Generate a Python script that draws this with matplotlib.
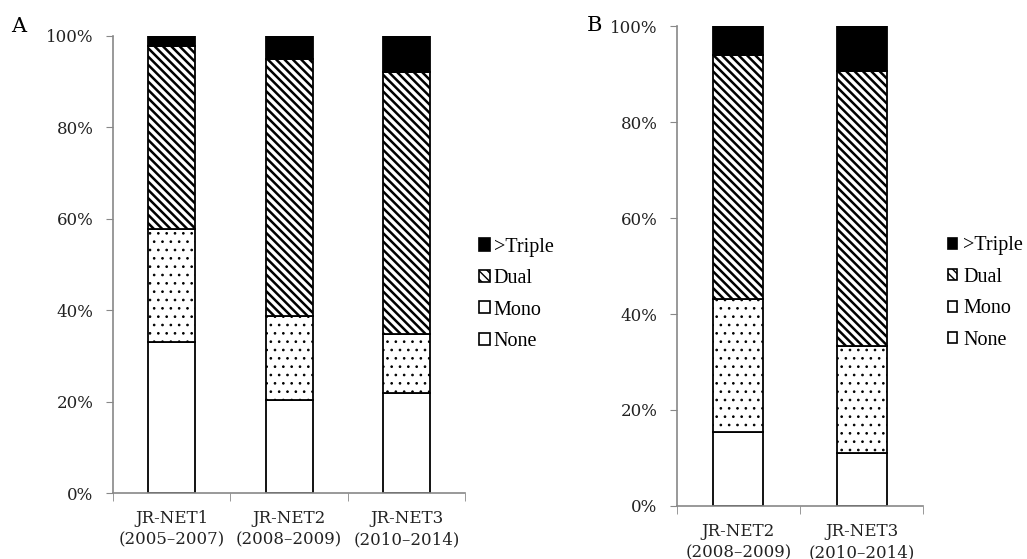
import matplotlib.pyplot as plt
from matplotlib.patches import Patch
from matplotlib.font_manager import FontProperties

plt.rcParams['font.family'] = ['DejaVu Serif']

# Panel A data (percent)
labels_a = ['JR-NET1\n(2005\u20132007)', 'JR-NET2\n(2008\u20132009)', 'JR-NET3\n(2010\u20132014)']
none_a = [33.1, 20.4, 21.8]
mono_a = [24.7, 18.3, 13.0]
dual_a = [39.9, 56.3, 57.2]
triple_a = [2.3, 5.0, 8.0]

# Panel B data (percent)
labels_b = ['JR-NET2\n(2008\u20132009)', 'JR-NET3\n(2010\u20132014)']
none_b = [15.4, 11.0]
mono_b = [27.7, 22.3]
dual_b = [50.9, 57.3]
triple_b = [6.0, 9.4]

series_names = ['None', 'Mono', 'Dual', '>Triple']
hatches = ['', '..', '\\\\\\\\', '']
hatch_lw = [1.0, 0.7, 1.8, 1.0]
faces = ['white', 'white', 'white', 'black']

fig = plt.figure(figsize=(10.27, 5.59), dpi=100)
ax_a = fig.add_axes([0.110, 0.118, 0.343, 0.818])
ax_b = fig.add_axes([0.659, 0.095, 0.240, 0.858])


def set_hlw(patch, hl):
    # per-patch hatch line width (matplotlib >= 3.10)
    if hasattr(patch, 'set_hatch_linewidth'):
        patch.set_hatch_linewidth(hl)


def draw_panel(ax, labels, series, width):
    x = list(range(len(labels)))
    bottom = [0.0] * len(labels)
    for vals, h, fc, hl in zip(series, hatches, faces, hatch_lw):
        with plt.rc_context({'hatch.linewidth': hl}):
            bars = ax.bar(x, vals, width, bottom=bottom, color=fc, hatch=h,
                          edgecolor='black', linewidth=1.3)
        for p in bars:
            set_hlw(p, hl)
        bottom = [b + v for b, v in zip(bottom, vals)]
    ax.set_xlim(-0.5, len(labels) - 0.5)
    ax.set_ylim(0, 100)
    ax.set_yticks([0, 20, 40, 60, 80, 100])
    ax.set_yticklabels(['0%', '20%', '40%', '60%', '80%', '100%'], fontsize=12,
                       color='#222222')
    ax.set_xticks(x)
    ax.set_xticklabels(labels, fontsize=12, linespacing=1.35, color='#222222')
    ax.set_xticks([i - 0.5 for i in range(len(labels) + 1)], minor=True)
    ax.tick_params(axis='x', which='major', length=0, pad=12)
    ax.tick_params(axis='x', which='minor', length=6, color='#888888')
    ax.tick_params(axis='y', length=5, color='#888888', pad=9)
    for s in ['top', 'right']:
        ax.spines[s].set_visible(False)
    for s in ['left', 'bottom']:
        ax.spines[s].set_color('#888888')
        ax.spines[s].set_linewidth(1.2)


draw_panel(ax_a, labels_a, [none_a, mono_a, dual_a, triple_a], 0.40)
draw_panel(ax_b, labels_b, [none_b, mono_b, dual_b, triple_b], 0.405)

handles = []
for n, h, fc, hl in zip(series_names, hatches, faces, hatch_lw):
    with plt.rc_context({'hatch.linewidth': 1.2 if h == '\\\\\\\\' else hl}):
        hp = Patch(facecolor=fc, edgecolor='black', hatch=h.replace('..', ''),
                   label=n, linewidth=1.2)
    handles.append(hp)
handles = handles[::-1]

leg_font = FontProperties(family='Liberation Serif', size=14.5)
fig.legend(handles=handles, loc='upper left', bbox_to_anchor=(0.466, 0.575),
           frameon=False, prop=leg_font, handlelength=0.55, handleheight=0.55,
           handletextpad=0.2, labelspacing=0.62, borderpad=0, borderaxespad=0)
fig.legend(handles=handles, loc='upper left', bbox_to_anchor=(0.923, 0.577),
           frameon=False, prop=leg_font, handlelength=0.45, handleheight=0.45,
           handletextpad=0.3, labelspacing=0.62, borderpad=0, borderaxespad=0)

fig.text(0.011, 0.942, 'A', fontsize=15)
fig.text(0.571, 0.945, 'B', fontsize=15)

fig.savefig('out.png', dpi=100)
